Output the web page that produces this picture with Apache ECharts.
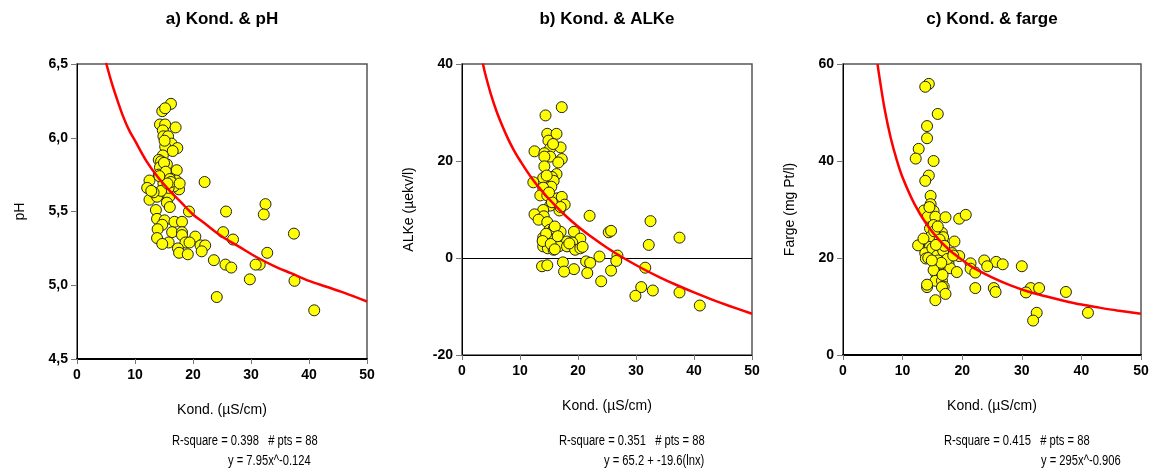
<!DOCTYPE html>
<html><head><meta charset="utf-8">
<script src="https://cdn.jsdelivr.net/npm/echarts@6/dist/echarts.min.js"></script>
<style>html,body{margin:0;padding:0;background:#fff}#c{width:1152px;height:470px}</style>
</head><body><div id="c"></div>
<script>
// ---- Data (x = Kond. µS/cm) ----
const titles = ['a) Kond. & pH', 'b) Kond. & ALKe', 'c) Kond. & farge'];
const yNames = ['pH', 'ALKe (µekv/l)', 'Farge (mg Pt/l)'];
const xName = 'Kond. (µS/cm)';
const statsLine1 = ['R-square = 0.398   # pts = 88', 'R-square = 0.351   # pts = 88', 'R-square = 0.415   # pts = 88'];
const statsLine2 = ['y = 7.95x^-0.124', 'y = 65.2 + -19.6(lnx)', 'y = 295x^-0.906'];

const phPts = [[16.2,6.23],[14.7,6.18],[15.2,6.20],[14.3,6.09],[15.2,6.09],[17.0,6.07],[14.8,6.05],[14.9,6.01],[15.7,6.01],[16.3,5.96],[15.2,5.94],[17.3,5.93],[16.5,5.91],[14.8,5.88],[14.1,5.85],[14.5,5.84],[15.5,5.82],[14.3,5.80],[17.2,5.78],[14.1,5.75],[15.6,5.74],[12.5,5.71],[16.3,5.72],[17.1,5.71],[16.6,5.68],[14.9,5.69],[12.1,5.66],[17.6,5.65],[16.7,5.67],[22.0,5.70],[13.5,5.62],[14.4,5.62],[15.9,5.60],[12.5,5.58],[13.8,5.60],[15.5,5.56],[16.0,5.53],[19.3,5.50],[25.7,5.50],[32.5,5.55],[32.2,5.48],[13.6,5.51],[13.8,5.45],[15.1,5.44],[16.8,5.43],[18.1,5.43],[14.7,5.41],[13.9,5.38],[16.4,5.36],[18.1,5.36],[25.2,5.36],[37.4,5.35],[20.4,5.33],[13.8,5.32],[18.1,5.34],[26.9,5.31],[15.8,5.29],[14.7,5.28],[18.7,5.29],[19.4,5.29],[17.4,5.25],[17.6,5.22],[19.1,5.21],[21.3,5.27],[22.1,5.27],[21.5,5.23],[32.8,5.22],[31.5,5.14],[30.8,5.14],[23.6,5.17],[25.6,5.14],[26.6,5.12],[29.8,5.04],[37.5,5.03],[24.1,4.92],[40.9,4.83],[15.0,5.83],[15.3,5.77],[16.0,5.72],[15.8,5.66],[14.5,5.64],[13.2,5.63],[16.2,5.70],[14.2,5.74],[15.6,5.69],[12.8,5.64],[15.1,5.98],[17.7,5.69]];

const alkPts = [[17.2,31.1],[14.4,29.4],[14.7,25.6],[16.3,25.6],[14.9,24.2],[15.2,22.6],[17.0,22.8],[12.5,22.0],[14.2,21.6],[15.2,20.9],[14.2,20.9],[17.2,20.4],[16.6,19.7],[14.2,18.9],[16.3,17.3],[15.5,16.7],[14.0,16.5],[15.8,15.9],[12.3,15.6],[15.4,14.7],[14.0,14.5],[13.5,12.9],[14.7,12.9],[16.4,12.3],[17.2,12.6],[17.7,11.0],[15.2,10.8],[16.8,9.8],[14.0,9.9],[22.0,8.7],[12.5,9.0],[14.1,8.6],[13.2,7.9],[14.7,7.4],[32.5,7.6],[15.1,5.8],[15.8,6.0],[17.0,5.4],[19.3,5.4],[25.3,5.3],[25.7,5.6],[37.5,4.2],[14.0,4.2],[15.9,3.9],[20.4,4.0],[14.1,3.2],[18.1,3.4],[19.0,3.2],[32.2,2.7],[14.0,2.4],[14.8,2.0],[15.8,1.7],[16.7,2.4],[18.1,2.4],[19.5,1.7],[20.4,2.0],[23.7,0.3],[26.8,0.5],[26.6,-0.6],[21.4,-0.7],[17.4,-0.9],[22.1,-1.0],[13.8,-1.7],[14.7,-1.5],[31.6,-2.0],[19.3,-2.3],[17.6,-2.8],[21.6,-3.1],[25.7,-2.6],[24.0,-4.8],[30.9,-6.0],[32.9,-6.7],[29.9,-7.8],[37.5,-7.1],[41.0,-9.8],[15.5,11.5],[16.0,6.5],[14.5,5.0],[13.9,3.5],[15.3,2.9],[16.5,4.5],[18.5,3.0],[15.0,13.5],[17.0,10.5],[14.6,17.0],[15.7,23.5],[16.0,1.8],[20.8,2.3]];

const fargePts = [[14.4,55.9],[13.8,55.3],[15.9,49.7],[14.1,47.2],[14.1,44.7],[12.7,42.5],[12.2,40.5],[15.2,40.0],[14.4,37.0],[13.8,35.9],[14.7,32.8],[14.7,31.1],[13.6,29.8],[15.2,29.7],[14.2,28.5],[15.5,28.5],[17.2,28.4],[19.5,28.1],[20.6,28.9],[14.6,26.1],[15.2,26.8],[16.6,25.2],[16.8,24.3],[18.7,23.4],[13.6,23.7],[12.6,22.6],[14.4,23.4],[14.9,23.4],[16.0,22.8],[14.6,22.3],[17.2,21.0],[13.8,21.0],[15.2,21.1],[18.3,21.0],[19.5,20.4],[13.9,19.9],[16.3,20.3],[15.6,18.7],[16.3,18.7],[17.7,18.9],[21.4,18.9],[23.7,19.5],[25.7,19.2],[26.8,18.7],[30.0,18.3],[24.2,18.3],[18.0,17.9],[21.4,17.8],[19.1,17.1],[22.2,17.0],[15.6,16.8],[15.5,15.3],[16.6,15.3],[16.9,14.1],[16.6,14.0],[14.1,14.0],[14.1,14.5],[22.2,13.8],[25.3,13.8],[25.6,13.0],[31.5,13.8],[32.9,13.8],[30.7,12.9],[37.4,13.0],[17.2,12.6],[15.5,11.3],[32.5,8.7],[41.1,8.7],[31.9,7.1],[15.0,22.0],[15.8,20.5],[14.8,24.5],[16.0,19.5],[15.3,25.5],[14.3,20.0],[16.8,21.5],[17.5,19.8],[15.2,17.5],[16.2,23.8],[14.5,30.5],[15.9,26.5],[17.0,22.5],[16.5,19.0],[18.5,20.5],[13.5,24.0],[14.9,19.5],[15.6,22.7],[16.7,16.5]];

// fitted curves, values
const phFitX  = [5, 6, 7, 8, 9, 10, 12, 14, 16, 18, 20, 22, 25, 28, 31, 34, 37, 40, 43, 46, 50];
const phFitY  = [6.51, 6.37, 6.25, 6.14, 6.05, 5.98, 5.84, 5.73, 5.64, 5.56, 5.48, 5.42, 5.33, 5.26, 5.19, 5.13, 5.08, 5.03, 4.99, 4.95, 4.89];
const alkFitX = [3.6, 4, 5, 6, 7, 8, 9, 10, 12, 14, 16, 18, 20, 22, 25, 28, 31, 34, 37, 40, 43, 46, 50];
const alkFitY = [40.1, 38.0, 33.7, 30.1, 27.1, 24.4, 22.1, 20.1, 16.5, 13.5, 10.9, 8.55, 6.48, 4.62, 2.11, -0.11, -2.11, -3.92, -5.57, -7.10, -8.52, -9.84, -11.5];
const fargeFitX = [5.8, 6, 7, 8, 9, 10, 12, 14, 16, 18, 20, 22, 25, 28, 31, 34, 37, 40, 43, 46, 50];
const fargeFitY = [60.0, 58.2, 50.6, 44.8, 40.3, 36.6, 31.1, 27.0, 23.9, 21.5, 19.6, 17.9, 16.0, 14.4, 13.1, 12.1, 11.2, 10.4, 9.77, 9.19, 8.52];

const yRanges = [[4.5, 6.5, 0.5], [-20, 40, 20], [0, 60, 20]];
// ---- Layout ----
const grids = [
  {left: 77, top: 64, width: 290, height: 295},
  {left: 462, top: 64, width: 290, height: 291},
  {left: 843, top: 64, width: 298, height: 291}
];
const bottomW = [2, 1, 2];
const yNameGap = [50, 46, 46];
const pts = [phPts, alkPts, fargePts];
const fits = [[phFitX, phFitY], [alkFitX, alkFitY], [fargeFitX, fargeFitY]];

const FONT = 'Liberation Sans, Arial, sans-serif';
const option = {
  animation: false,
  backgroundColor: '#fff',
  title: titles.map((t, i) => ({
    text: t, left: grids[i].left + grids[i].width / 2 - 5, top: 6, textAlign: 'center',
    textStyle: {fontFamily: FONT, fontSize: 17, fontWeight: 'bold', color: '#000'}
  })),
  grid: grids.map(g => Object.assign({show: true, borderColor: '#555', borderWidth: 1.5, backgroundColor: '#fff'}, g)),
  xAxis: grids.map((g, i) => ({
    type: 'value', gridIndex: i, min: 0, max: 50, interval: 10,
    name: xName, nameLocation: 'middle', nameGap: 44,
    nameTextStyle: {fontFamily: FONT, fontSize: 14, color: '#000'},
    axisLine: {onZero: false, lineStyle: {color: '#000', width: bottomW[i]}},
    axisTick: {show: true, inside: false, length: 5, lineStyle: {color: '#777'}},
    axisLabel: {fontFamily: FONT, fontSize: 14, fontWeight: 'bold', color: '#000', margin: 9},
    splitLine: {show: false}
  })),
  yAxis: grids.map((g, i) => ({
    type: 'value', gridIndex: i, min: yRanges[i][0], max: yRanges[i][1], interval: yRanges[i][2],
    name: yNames[i], nameLocation: 'middle', nameGap: yNameGap[i], nameRotate: 90,
    nameTextStyle: {fontFamily: FONT, fontSize: 14, color: '#000'},
    axisLine: {onZero: false, lineStyle: {color: '#000', width: 1}},
    axisTick: {show: true, inside: false, length: 6, lineStyle: {color: '#777'}},
    axisLabel: {fontFamily: FONT, fontSize: 14, fontWeight: 'bold', color: '#000', margin: 9,
      formatter: v => i === 0 ? v.toFixed(1).replace('.', ',') : String(v)},
    splitLine: {show: false}
  })),
  series: [].concat(
    pts.map((p, i) => {
      const s = {
        type: 'scatter', xAxisIndex: i, yAxisIndex: i, data: p, symbol: 'circle', symbolSize: 11,
        itemStyle: {color: '#ffff00', borderColor: '#222', borderWidth: 1, opacity: 1}, z: 3
      };
      if (i === 1) s.markLine = {silent: true, symbol: 'none', label: {show: false},
        lineStyle: {color: '#000', width: 1, type: 'solid'}, data: [{yAxis: 0}], z: 1};
      return s;
    }),
    fits.map((f, i) => ({
      type: 'line', xAxisIndex: i, yAxisIndex: i, data: f[0].map((x, k) => [x, f[1][k]]),
      smooth: 0.35, showSymbol: false, clip: true,
      lineStyle: {color: '#ff0000', width: 2.5}, z: 4
    }))
  ),
  graphic: [].concat(
    [[172, 559, 944], [228, 604, 1041]].flatMap((xs, row) => xs.map((x, i) => ({
      type: 'text', x: x, y: row === 0 ? 434 : 454, scaleX: 0.8,
      style: {text: row === 0 ? statsLine1[i] : statsLine2[i], fontFamily: FONT, fontSize: 14, fill: '#000'}
    })))
  )
};
const chart = echarts.init(document.getElementById('c'), null, {renderer: 'canvas'});
chart.setOption(option);
</script></body></html>
